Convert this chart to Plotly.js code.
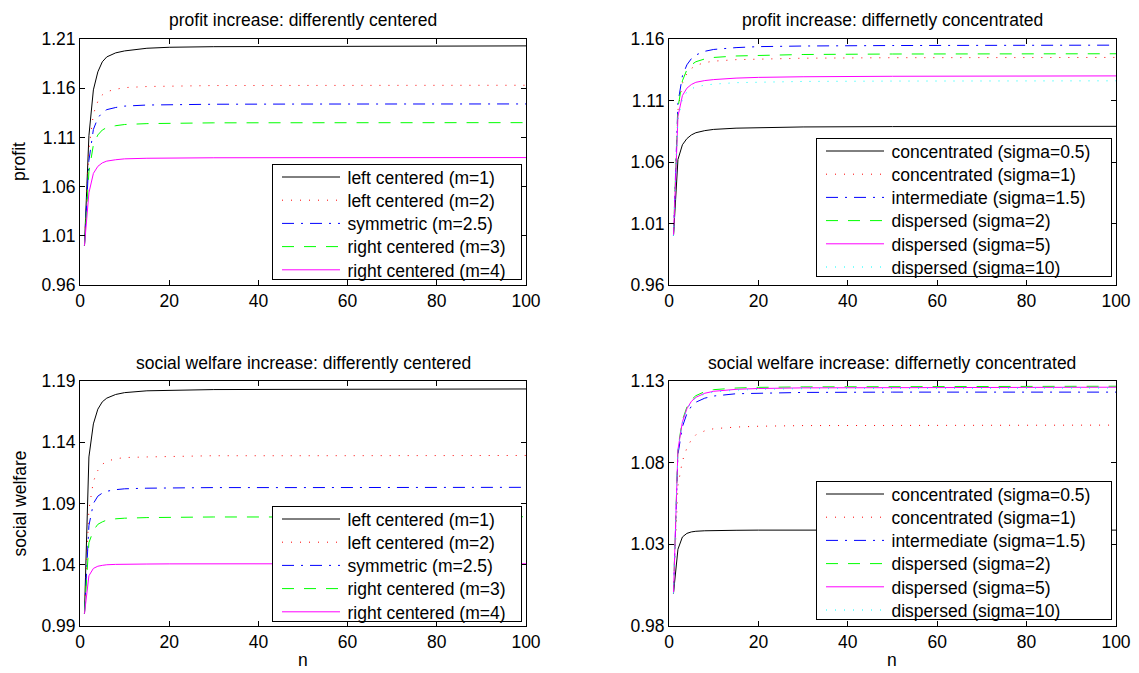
<!DOCTYPE html>
<html><head><meta charset="utf-8">
<script src="https://cdn.plot.ly/plotly-3.0.1.min.js"></script>
<style>html,body{margin:0;padding:0;background:#fff}#chart{width:1139px;height:673px}</style>
</head><body><div id="chart"></div>
<script>
// ---------- data ----------
const n = [1, 2, 3, 4, 5, 6, 8, 10, 15, 20, 30, 50, 100];

const centeredNames = ['left centered (m=1)', 'left centered (m=2)', 'symmetric (m=2.5)', 'right centered (m=3)', 'right centered (m=4)'];
const concentratedNames = ['concentrated (sigma=0.5)', 'concentrated (sigma=1)', 'intermediate (sigma=1.5)', 'dispersed (sigma=2)', 'dispersed (sigma=5)', 'dispersed (sigma=10)'];

// profit increase: differently centered
const profitM1  = [1.000, 1.1117, 1.1583, 1.1766, 1.1868, 1.1918, 1.1959, 1.1979, 1.2006, 1.2016, 1.2022, 1.2026, 1.2030];
const profitM2  = [1.000, 1.0978, 1.1337, 1.1467, 1.1532, 1.1565, 1.1589, 1.1606, 1.1617, 1.1622, 1.1627, 1.1628, 1.1630];
const profitM25 = [1.000, 1.0864, 1.1181, 1.1296, 1.1354, 1.1382, 1.1404, 1.1418, 1.1429, 1.1433, 1.1437, 1.1439, 1.1440];
const profitM3  = [1.000, 1.0750, 1.1025, 1.1125, 1.1175, 1.1200, 1.1219, 1.1231, 1.1240, 1.1244, 1.1248, 1.1249, 1.1250];
const profitM4  = [1.000, 1.0537, 1.0734, 1.0806, 1.0841, 1.0859, 1.0873, 1.0882, 1.0888, 1.0891, 1.0893, 1.0894, 1.0895];

// profit increase: differnetly concentrated
const profitS05 = [1.000, 1.0620, 1.0740, 1.0790, 1.0820, 1.0838, 1.0855, 1.0865, 1.0875, 1.0880, 1.0885, 1.0888, 1.0890];
const profitS1  = [1.000, 1.1020, 1.1240, 1.1320, 1.1360, 1.1385, 1.1408, 1.1420, 1.1432, 1.1438, 1.1444, 1.1448, 1.1450];
const profitS15 = [1.000, 1.1080, 1.1300, 1.1390, 1.1440, 1.1470, 1.1500, 1.1515, 1.1530, 1.1538, 1.1543, 1.1547, 1.1550];
const profitS2  = [1.000, 1.1040, 1.1260, 1.1350, 1.1390, 1.1415, 1.1438, 1.1450, 1.1462, 1.1468, 1.1474, 1.1478, 1.1480];
const profitS5  = [1.000, 1.0970, 1.1140, 1.1200, 1.1230, 1.1248, 1.1262, 1.1270, 1.1282, 1.1288, 1.1293, 1.1297, 1.1300];
const profitS10 = [1.000, 1.0950, 1.1110, 1.1170, 1.1195, 1.1210, 1.1225, 1.1233, 1.1245, 1.1250, 1.1255, 1.1258, 1.1260];

// social welfare increase: differently centered
const welfareM1  = [1.000, 1.1280, 1.1550, 1.1670, 1.1730, 1.1760, 1.1790, 1.1805, 1.1820, 1.1825, 1.1830, 1.1832, 1.1835];
const welfareM2  = [1.000, 1.0850, 1.1080, 1.1170, 1.1220, 1.1245, 1.1265, 1.1275, 1.1280, 1.1285, 1.1290, 1.1290, 1.1292];
const welfareM25 = [1.000, 1.0720, 1.0900, 1.0960, 1.0985, 1.1000, 1.1013, 1.1020, 1.1025, 1.1028, 1.1030, 1.1030, 1.1032];
const welfareM3  = [1.000, 1.0580, 1.0680, 1.0730, 1.0750, 1.0765, 1.0775, 1.0780, 1.0785, 1.0788, 1.0790, 1.0790, 1.0792];
const welfareM4  = [1.000, 1.0310, 1.0370, 1.0388, 1.0395, 1.0400, 1.0403, 1.0405, 1.0406, 1.0407, 1.0408, 1.0408, 1.0408];

// social welfare increase: differnetly concentrated
const welfareS05 = [1.000, 1.0270, 1.0345, 1.0367, 1.0376, 1.0380, 1.0383, 1.0385, 1.0386, 1.0387, 1.0387, 1.0387, 1.0387];
const welfareS1  = [1.000, 1.0660, 1.0810, 1.0890, 1.0940, 1.0970, 1.0995, 1.1008, 1.1018, 1.1023, 1.1027, 1.1029, 1.1030];
const welfareS15 = [1.000, 1.0850, 1.1020, 1.1100, 1.1145, 1.1170, 1.1195, 1.1208, 1.1222, 1.1226, 1.1230, 1.1232, 1.1232];
const welfareS2  = [1.000, 1.0890, 1.1060, 1.1140, 1.1185, 1.1210, 1.1235, 1.1247, 1.1257, 1.1261, 1.1264, 1.1266, 1.1268];
const welfareS5  = [1.000, 1.0880, 1.1050, 1.1130, 1.1175, 1.1200, 1.1225, 1.1237, 1.1249, 1.1254, 1.1258, 1.1260, 1.1262];
const welfareS10 = [1.000, 1.0875, 1.1045, 1.1125, 1.1170, 1.1195, 1.1220, 1.1232, 1.1244, 1.1249, 1.1253, 1.1255, 1.1257];

// ticks
const xTicks = [0, 20, 40, 60, 80, 100];
const profitCenteredTicks = [0.96, 1.01, 1.06, 1.11, 1.16, 1.21];
const profitConcTicks = [0.96, 1.01, 1.06, 1.11, 1.16];
const welfareCenteredTicks = [0.99, 1.04, 1.09, 1.14, 1.19];
const welfareConcTicks = [0.98, 1.03, 1.08, 1.13];

// ---------- styles ----------
const FONT = 'Liberation Sans, Arial, Helvetica, sans-serif';
const FS = 17.5;
const DOT = '1px,8px', DASH = '12px,10px', DASHDOT = '12px,7px,2px,7px';
const centeredStyles = [
  {color: '#000000', dash: 'solid'},
  {color: '#ff0000', dash: DOT},
  {color: '#0000ff', dash: DASHDOT},
  {color: '#00ff00', dash: DASH},
  {color: '#ff00ff', dash: 'solid'}
];
const concStyles = centeredStyles.concat([{color: '#00ffff', dash: DOT}]);

function makeTraces(series, names, styles, xa, ya, lg) {
  return series.map((ys, i) => ({
    type: 'scatter', mode: 'lines', x: n, y: ys, name: names[i],
    xaxis: xa, yaxis: ya, legend: lg,
    line: {color: styles[i].color, dash: styles[i].dash, width: 1}
  }));
}

const traces = [].concat(
  makeTraces([profitM1, profitM2, profitM25, profitM3, profitM4], centeredNames, centeredStyles, 'x', 'y', 'legend'),
  makeTraces([profitS05, profitS1, profitS15, profitS2, profitS5, profitS10], concentratedNames, concStyles, 'x2', 'y2', 'legend2'),
  makeTraces([welfareM1, welfareM2, welfareM25, welfareM3, welfareM4], centeredNames, centeredStyles, 'x3', 'y3', 'legend3'),
  makeTraces([welfareS05, welfareS1, welfareS15, welfareS2, welfareS5, welfareS10], concentratedNames, concStyles, 'x4', 'y4', 'legend4')
);

const W = 1139, H = 673;
const L = [80 / W, 526 / W], R = [669 / W, 1116 / W];
const T = [1 - 285 / H, 1 - 39 / H], B = [1 - 626 / H, 1 - 381 / H];

function axis(domain, range, ticks, anchor, fmt) {
  return {
    domain: domain, range: range, anchor: anchor,
    tickmode: 'array', tickvals: ticks, ticktext: ticks.map(v => fmt ? v.toFixed(2) : String(v)),
    showline: true, linecolor: '#000', linewidth: 1, mirror: 'ticks',
    ticks: 'inside', ticklen: 5, tickwidth: 1, tickcolor: '#000',
    showgrid: false, zeroline: false, fixedrange: true,
    tickfont: {family: FONT, size: FS, color: '#000'}
  };
}

// legend boxes (MATLAB-like geometry): left edge, bottom edge, width, number of rows
const legendBoxes = {
  legend:  {left: 272, bottom: 280, width: 250, rows: 5},
  legend2: {left: 816, bottom: 277, width: 296, rows: 6},
  legend3: {left: 272, bottom: 622, width: 250, rows: 5},
  legend4: {left: 816, bottom: 620, width: 296, rows: 6}
};
const ROW = 23.2, FIRST = 13, LAST = 10, LINE_X0 = 10, LINE_LEN = 58, TEXT_X = 75.5;

function legend(id) {
  const b = legendBoxes[id];
  return {
    x: (b.left + b.width) / W, y: 1 - b.bottom / H, xanchor: 'right', yanchor: 'bottom',
    bgcolor: '#ffffff', bordercolor: '#000000', borderwidth: 1,
    font: {family: FONT, size: FS, color: '#000'}, itemwidth: TEXT_X - 10, tracegroupgap: 0
  };
}

const titleFont = {family: FONT, size: FS, color: '#000'};
function ann(text, x, y, extra) {
  return Object.assign({text: text, x: x, y: y, xref: 'paper', yref: 'paper', showarrow: false,
    xanchor: 'center', yanchor: 'middle', font: titleFont}, extra || {});
}

const layout = {
  width: W, height: H, margin: {l: 0, r: 0, t: 0, b: 0},
  paper_bgcolor: '#fff', plot_bgcolor: '#fff', showlegend: true,
  font: {family: FONT, size: FS, color: '#000'},
  xaxis:  axis(L, [0, 100], xTicks, 'y', false),
  yaxis:  axis(T, [0.96, 1.21], profitCenteredTicks, 'x', true),
  xaxis2: axis(R, [0, 100], xTicks, 'y2', false),
  yaxis2: axis(T, [0.96, 1.16], profitConcTicks, 'x2', true),
  xaxis3: axis(L, [0, 100], xTicks, 'y3', false),
  yaxis3: axis(B, [0.99, 1.19], welfareCenteredTicks, 'x3', true),
  xaxis4: axis(R, [0, 100], xTicks, 'y4', false),
  yaxis4: axis(B, [0.98, 1.13], welfareConcTicks, 'x4', true),
  legend: legend('legend'),
  legend2: legend('legend2'),
  legend3: legend('legend3'),
  legend4: legend('legend4'),
  annotations: [
    ann('profit increase: differently centered', (L[0] + L[1]) / 2, 1 - 20 / H),
    ann('profit increase: differnetly concentrated', (R[0] + R[1]) / 2, 1 - 20 / H),
    ann('social welfare increase: differently centered', (L[0] + L[1]) / 2, 1 - 363 / H),
    ann('social welfare increase: differnetly concentrated', (R[0] + R[1]) / 2, 1 - 363 / H),
    ann('profit', 19 / W, 1 - 162 / H, {textangle: -90}),
    ann('social welfare', 19 / W, 1 - 503.5 / H, {textangle: -90}),
    ann('n', (L[0] + L[1]) / 2, 1 - 660 / H),
    ann('n', (R[0] + R[1]) / 2, 1 - 660 / H)
  ]
};

// compact the legends to MATLAB-like row spacing and sample length (idempotent)
function fixLegends(gd) {
  Object.keys(legendBoxes).forEach(id => {
    try {
      const g = gd.querySelector('g.' + id);
      if (!g) return;
      const b = legendBoxes[id];
      const h = FIRST + (b.rows - 1) * ROW + LAST;
      const top = Math.round(b.bottom - h);
      g.setAttribute('transform', 'translate(' + b.left + ',' + top + ')');
      const bg = g.querySelector('rect.bg');
      if (bg) {
        bg.setAttribute('x', 0.5); bg.setAttribute('y', 0.5);
        bg.setAttribute('width', b.width - 1); bg.setAttribute('height', Math.round(h) - 1);
      }
      const sb = g.querySelector('.scrollbox');
      if (sb) { sb.removeAttribute('clip-path'); sb.setAttribute('transform', ''); }
      const sc = g.querySelector('rect.scrollbar');
      if (sc) sc.setAttribute('display', 'none');
      g.querySelectorAll('g.traces').forEach((t, i) => {
        t.setAttribute('transform', 'translate(0,' + (FIRST + i * ROW) + ')');
        t.querySelectorAll('.legendlines path').forEach(p => p.setAttribute('d', 'M' + LINE_X0 + ',0h' + LINE_LEN));
        t.querySelectorAll('text.legendtext').forEach(tx => {
          tx.setAttribute('x', TEXT_X);
          tx.querySelectorAll('tspan').forEach(s => { if (s.hasAttribute('x')) s.setAttribute('x', TEXT_X); });
        });
      });
    } catch (e) { /* keep default legend */ }
  });
}

Plotly.newPlot('chart', traces, layout, {displayModeBar: false, staticPlot: true})
  .then(gd => {
    fixLegends(gd);
    gd.on && gd.on('plotly_afterplot', () => fixLegends(gd));
    requestAnimationFrame(() => fixLegends(gd));
    [30, 120, 400, 1000].forEach(t => setTimeout(() => fixLegends(gd), t));
  });
</script>
</body></html>
